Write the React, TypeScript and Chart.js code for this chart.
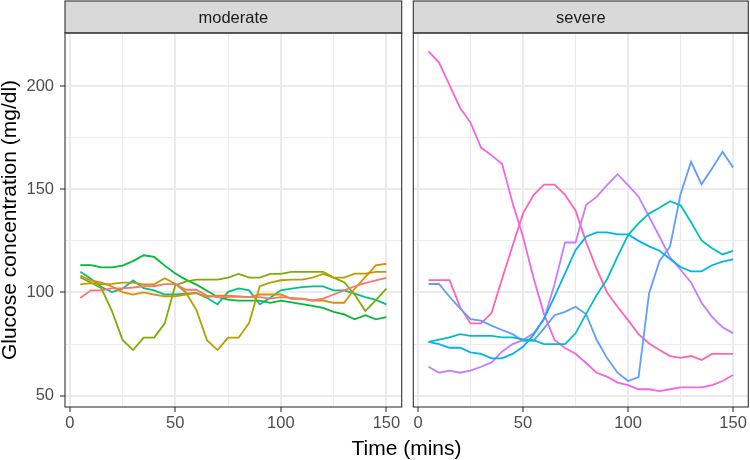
import React, { useEffect, useRef } from "react";
import { Chart, registerables } from "chart.js";

Chart.register(...registerables);

const FONT = '"Liberation Sans", Arial, Helvetica, sans-serif';

// time points (mins)
const TIMES = [5, 10, 15, 20, 25, 30, 35, 40, 45, 50, 55, 60, 65, 70, 75, 80, 85, 90, 95, 100, 105, 110, 115, 120, 125, 130, 135, 140, 145, 150];

const X_TICKS = [0, 25, 50, 75, 100, 125, 150];
const X_LABELS = [0, 50, 100, 150];
const Y_TICKS = [50, 75, 100, 125, 150, 175, 200];
const Y_LABELS = [50, 100, 150, 200];
const X_RANGE = [-2.25, 157.25];
const Y_RANGE = [44.5, 225.7];

const PANELS = ["moderate", "severe"];

// moderate panel subjects
const mod1 = [97.3, 101, 101, 102, 102, 102.4, 103, 103, 104, 104, 101.3, 101.3, 98.5, 97.7, 97.7, 98, 97.7, 97.7, 97, 97.7, 97.4, 97, 96.1, 97, 99, 101, 103, 104.5, 105.8, 107.1];
const mod2 = [108.2, 105.8, 104.8, 102.9, 100.2, 99, 100, 99, 98.1, 98.1, 99, 99.7, 97.7, 98.5, 98.5, 98.1, 97.7, 99, 99, 99, 96.9, 96.9, 96.1, 96.1, 95, 95, 101.8, 107.4, 113.1, 113.9];
const mod3 = [103.9, 104.5, 103.9, 104.2, 104.8, 104.8, 103.9, 103.9, 106.9, 104.2, 100, 91.5, 76.9, 72.1, 78.1, 78.1, 85.3, 103, 104.8, 105.9, 106.2, 106.2, 107.2, 109, 107.2, 107.2, 109.1, 109.1, 110, 110];
const mod4 = [107.3, 104.8, 102, 91, 77, 72.1, 78.1, 78.1, 85, 103.5, 105.2, 106.2, 106.2, 106.2, 107.2, 109, 107.2, 107.2, 109, 109, 110, 110, 110, 110, 107.2, 105, 99, 91, 96.3, 101.9];
const mod5 = [113.2, 113.2, 112.1, 112.1, 113, 115.2, 118, 117.2, 113, 109.2, 106.2, 103.8, 100.8, 97.8, 96.5, 96, 96, 96, 95, 96, 95.2, 94.3, 93.5, 92.5, 90.6, 89.4, 87, 89, 87, 88];
const mod6 = [110, 106.6, 102.6, 100.2, 101.8, 105.8, 102.1, 101, 99, 99, 99.4, 99.8, 97.4, 94.2, 100.3, 102, 101, 94.2, 97.4, 101, 101.8, 102.6, 102.9, 102.9, 101, 101, 99.4, 97.7, 96.4, 94.2];

// severe panel subjects
const sev1 = [76.1, 77.2, 78.2, 79.8, 79, 79, 79, 78.2, 78.2, 77.2, 76.9, 75, 75, 75, 80.2, 89.5, 98.7, 106.4, 117.3, 127.8, 133.5, 138.2, 141, 144.2, 142.2, 134, 125.2, 121.4, 118.4, 120.1];
const sev2 = [76.1, 75, 73.2, 73.2, 71, 70.2, 68.1, 68.1, 70.2, 73.7, 79.4, 87.4, 98, 109.2, 120.5, 127, 129.1, 129.1, 128.1, 128.1, 125, 122.3, 120.2, 116.2, 112.3, 110.2, 110.2, 113.2, 114.9, 116];
const sev3 = [104.1, 104.1, 97.9, 92.3, 87.1, 86.3, 83.9, 81.8, 79.8, 76.6, 76.6, 82.6, 89, 90.6, 93.1, 89.5, 77.2, 68.2, 61.1, 57.1, 59, 99.5, 115.3, 122.3, 147.6, 163.3, 152.4, 160.1, 168.2, 160.5];
const sev4 = [64, 61.1, 62.1, 61.1, 62.1, 64, 66.1, 71.3, 75, 76.9, 80.2, 87, 104, 124.2, 124.2, 142.3, 146.3, 152, 157.3, 152, 146.4, 136.7, 127, 117, 111, 104.8, 95, 88.2, 83.1, 80.3];
const sev5 = [216.8, 211.4, 200.5, 189.5, 182.3, 170.2, 166.4, 162.3, 143.5, 127, 107, 89.5, 77, 73.1, 70.3, 65.8, 61.1, 59.2, 56.3, 55.1, 53.1, 53.1, 52.2, 53.1, 54, 54, 54, 55.1, 57.1, 60];
const sev6 = [106, 106, 106, 93, 85, 85, 90, 106.5, 122.5, 138.3, 147.2, 152.2, 152.2, 147.3, 139.7, 124.5, 111.5, 100, 93.1, 86.6, 79.8, 75.3, 72.1, 69.2, 68.3, 69.2, 67.3, 70.2, 70.2, 70.2];

const MOD_SERIES = [mod1, mod2, mod3, mod4, mod5, mod6];
const SEV_SERIES = [sev1, sev2, sev3, sev4, sev5, sev6];
const MOD_COLORS = ["#F8766D", "#DE8C00", "#B79F00", "#7CAE00", "#00BA38", "#00C08B"];
const SEV_COLORS = ["#00BFC4", "#00B4F0", "#619CFF", "#C77CFF", "#F564E3", "#FF64B0"];

const PANEL_TOP = 33;
const AXIS_H = 53;

function makeChart(
  canvas: HTMLCanvasElement,
  label: string,
  series: number[][],
  colors: string[],
  showY: boolean,
  padLeft: number,
  padRight: number
) {
  const decor = {
    id: "panelDecor",
    afterDraw(chart: any) {
      const { ctx, chartArea: a } = chart;
      ctx.save();
      ctx.lineWidth = 1.1;
      ctx.strokeStyle = "#333333";
      ctx.fillStyle = "#D9D9D9";
      ctx.fillRect(a.left, 1, a.right - a.left, a.top - 1);
      ctx.strokeRect(a.left, 1, a.right - a.left, a.top - 1);
      ctx.fillStyle = "#1A1A1A";
      ctx.font = `16.5px ${FONT}`;
      ctx.textAlign = "center";
      ctx.textBaseline = "middle";
      ctx.fillText(label, (a.left + a.right) / 2, (a.top + 1) / 2 + 1);
      ctx.strokeRect(a.left, a.top, a.right - a.left, a.bottom - a.top);
      ctx.restore();
    },
  };

  const isMajorX = (v: number) => X_LABELS.includes(v);
  const isMajorY = (v: number) => Y_LABELS.includes(v);

  return new Chart(canvas, {
    type: "line",
    data: {
      datasets: series.map((vals, i) => ({
        data: TIMES.map((t, j) => ({ x: t, y: vals[j] })),
        borderColor: colors[i],
        backgroundColor: colors[i],
        borderWidth: 1.8,
        pointRadius: 0,
        tension: 0,
        fill: false,
      })),
    },
    options: {
      responsive: false,
      animation: false,
      devicePixelRatio: 1,
      layout: { padding: { left: padLeft, right: padRight, top: PANEL_TOP, bottom: 0 } },
      plugins: {
        legend: { display: false },
        tooltip: { enabled: false },
      },
      scales: {
        x: {
          type: "linear",
          min: X_RANGE[0],
          max: X_RANGE[1],
          afterBuildTicks: (s: any) => {
            s.ticks = X_TICKS.map((v) => ({ value: v }));
          },
          afterFit: (s: any) => {
            s.height = AXIS_H;
          },
          border: { display: false },
          grid: {
            color: "#EBEBEB",
            lineWidth: (c: any) => (c.tick && isMajorX(c.tick.value) ? 2 : 1),
            tickColor: (c: any) => (c.tick && isMajorX(c.tick.value) ? "#333333" : "rgba(0,0,0,0)"),
            tickWidth: 1.1,
            tickLength: 5,
            drawTicks: true,
          },
          ticks: {
            autoSkip: false,
            maxRotation: 0,
            padding: 2,
            color: "#4D4D4D",
            font: { size: 16.5, family: FONT },
            callback: (v: any) => (isMajorX(Number(v)) ? String(v) : ""),
          },
        },
        y: {
          type: "linear",
          min: Y_RANGE[0],
          max: Y_RANGE[1],
          afterBuildTicks: (s: any) => {
            s.ticks = Y_TICKS.map((v) => ({ value: v }));
          },
          afterFit: (s: any) => {
            s.width = showY ? 65 : 0;
          },
          border: { display: false },
          title: {
            display: showY,
            text: "Glucose concentration (mg/dl)",
            color: "#000000",
            font: { size: 21, family: FONT, lineHeight: 1 },
            padding: { top: 0, bottom: 0 },
          },
          grid: {
            color: "#EBEBEB",
            lineWidth: (c: any) => (c.tick && isMajorY(c.tick.value) ? 2 : 1),
            tickColor: (c: any) => (c.tick && isMajorY(c.tick.value) ? "#333333" : "rgba(0,0,0,0)"),
            tickWidth: 1.1,
            tickLength: 5,
            drawTicks: showY,
          },
          ticks: {
            display: showY,
            autoSkip: false,
            padding: 6,
            color: "#4D4D4D",
            font: { size: 16.5, family: FONT },
            callback: (v: any) => (isMajorY(Number(v)) ? String(v) : ""),
          },
        },
      },
    },
    plugins: [decor],
  } as any);
}

export default function App() {
  const leftRef = useRef<HTMLCanvasElement | null>(null);
  const rightRef = useRef<HTMLCanvasElement | null>(null);

  useEffect(() => {
    Chart.defaults.font.family = FONT;
    const c1 = makeChart(leftRef.current!, PANELS[0], MOD_SERIES, MOD_COLORS, true, 0, 4.3);
    const c2 = makeChart(rightRef.current!, PANELS[1], SEV_SERIES, SEV_COLORS, false, 7.3, 1.7);
    return () => {
      c1.destroy();
      c2.destroy();
    };
  }, []);

  return (
    <div
      style={{
        position: "absolute",
        left: 0,
        top: 0,
        width: 750,
        height: 460,
        background: "#FFFFFF",
        fontFamily: FONT,
        overflow: "hidden",
      }}
    >
      <canvas
        ref={leftRef}
        width={406}
        height={460}
        style={{ position: "absolute", left: 0, top: 0, width: 406, height: 460, display: "block" }}
      />
      <canvas
        ref={rightRef}
        width={344}
        height={460}
        style={{ position: "absolute", left: 406, top: 0, width: 344, height: 460, display: "block" }}
      />
      <div
        style={{
          position: "absolute",
          left: 65,
          width: 683,
          top: 437,
          textAlign: "center",
          fontSize: 21,
          lineHeight: 1,
          color: "#000000",
          whiteSpace: "nowrap",
        }}
      >
        Time (mins)
      </div>
    </div>
  );
}
